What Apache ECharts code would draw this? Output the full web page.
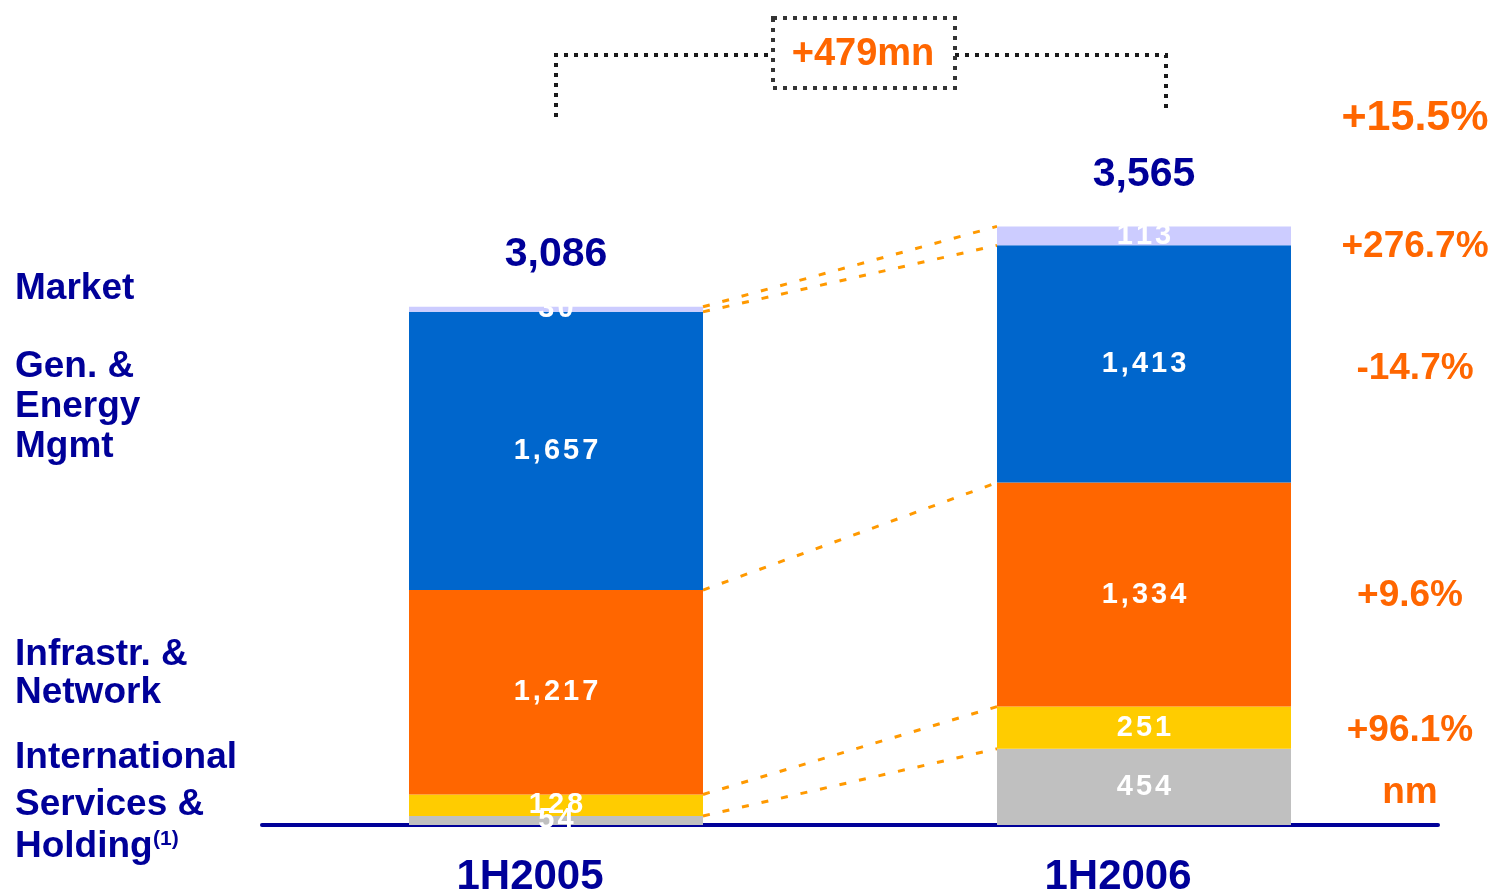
<!DOCTYPE html>
<html>
<head>
<meta charset="utf-8">
<script src="https://cdn.jsdelivr.net/npm/echarts@6/dist/echarts.min.js"></script>
<style>
  html, body { margin: 0; padding: 0; background: #ffffff; }
  #chart { width: 1491px; height: 893px; }
</style>
</head>
<body>
<div id="chart"></div>
<script>
// Revenue by business area, 1H2005 vs 1H2006 (EUR mn)
const categories = ['1H2005', '1H2006'];
const servicesHolding = [54, 454];
const international = [128, 251];
const infrastructure = [1217, 1334];
const generation = [1657, 1413];
const market = [30, 113];
const totals = [3086, 3565];

// Year-on-year change per business area (bottom to top) and overall
const segmentChanges = ['nm', '+96.1%', '+9.6%', '-14.7%', '+276.7%'];
const totalChange = '+15.5%';
const totalDelta = '+479mn';

const NAVY = '#000099';
const ORANGE_TEXT = '#FF6600';
const FONT = "'Liberation Sans', Arial, Helvetica, sans-serif";

const segments = [
  { name: 'Services & Holding', data: servicesHolding, color: '#C0C0C0' },
  { name: 'International', data: international, color: '#FFCC00' },
  { name: 'Infrastr. & Network', data: infrastructure, color: '#FF6600' },
  { name: 'Gen. & Energy Mgmt', data: generation, color: '#0066CC' },
  { name: 'Market', data: market, color: '#CCCCFF' }
];

// Cumulative tops of each segment, used for the connector lines
const boundaries = [];
const running = [0, 0];
segments.forEach(function (s) {
  running[0] += s.data[0];
  running[1] += s.data[1];
  boundaries.push([0, running[0], running[1]]);
});

function fmt(v) { return v.toLocaleString('en-US'); }
// Letter-spaced white value labels inside the bars
function spaced(v) {
  return fmt(v).split('').map(function (c) { return '{c|' + c + '}'; }).join('');
}

const barSeries = segments.map(function (s) {
  return {
    name: s.name,
    type: 'bar',
    stack: 'revenue',
    barWidth: '50%',
    data: s.data,
    itemStyle: { color: s.color },
    label: {
      show: true,
      position: 'inside',
      formatter: function (p) { return spaced(p.value); },
      rich: {
        c: { fontFamily: FONT, fontSize: 29, fontWeight: 'bold', color: '#ffffff', padding: [0, 1.5, 0, 1.5] }
      }
    },
    z: 3
  };
});

// Dotted connectors between matching segment tops of the two bars
const connectorSeries = {
  type: 'custom',
  silent: true,
  encode: { x: 0, y: [1, 2] },
  data: boundaries,
  z: 2,
  renderItem: function (params, api) {
    const band = api.size([1, 0])[0];
    const half = band * 0.25;
    const p1 = api.coord([0, api.value(1)]);
    const p2 = api.coord([1, api.value(2)]);
    return {
      type: 'line',
      shape: { x1: p1[0] + half, y1: p1[1], x2: p2[0] - half, y2: p2[1] },
      style: { stroke: '#FF9900', lineWidth: 3, lineDash: [7, 13], fill: null }
    };
  }
};

// Bracket showing the total increase between the two periods
const bracketSeries = {
  type: 'custom',
  silent: true,
  encode: { x: 0, y: [1, 2] },
  data: [[0, totals[0], totals[1]]],
  z: 5,
  renderItem: function (params, api) {
    const c1 = api.coord([0, 0])[0];
    const c2 = api.coord([1, 0])[0];
    const mid = (c1 + c2) / 2 + 14;
    const boxHalf = 91;
    const lineY = 55;
    const dash = { stroke: '#1a1a1a', lineWidth: 4, lineDash: [4, 6], fill: null };
    return {
      type: 'group',
      children: [
        { type: 'polyline', shape: { points: [[c1, 117], [c1, lineY], [mid - boxHalf, lineY]] }, style: dash },
        { type: 'polyline', shape: { points: [[mid + boxHalf, lineY], [c2 + 22, lineY], [c2 + 22, 110]] }, style: dash },
        { type: 'rect', shape: { x: mid - boxHalf, y: 18, width: boxHalf * 2, height: 70 }, style: { stroke: '#333333', lineWidth: 4, lineDash: [4, 6], fill: null } },
        {
          type: 'text', x: mid - 1, y: 55,
          style: {
            text: totalDelta, fill: ORANGE_TEXT,
            font: 'bold 38px ' + FONT,
            align: 'center', verticalAlign: 'middle',
            textAlign: 'center', textVerticalAlign: 'middle'
          }
        }
      ]
    };
  }
};

// Period totals above the stacks
const totalSeries = {
  type: 'scatter',
  silent: true,
  symbolSize: 1,
  itemStyle: { color: 'transparent', opacity: 1 },
  data: totals,
  label: {
    show: true,
    position: 'top',
    distance: 31,
    formatter: function (p) { return fmt(p.value); },
    fontFamily: FONT, fontSize: 41, fontWeight: 'bold', color: NAVY, opacity: 1
  },
  z: 6
};

function txt(text, x, y, size, color, align) {
  return {
    type: 'text', x: x, y: y, silent: true,
    style: {
      text: text, fill: color,
      font: 'bold ' + size + 'px ' + FONT,
      align: align || 'left', verticalAlign: 'middle',
      textAlign: align || 'left', textVerticalAlign: 'middle'
    }
  };
}

// Business area names on the left
const leftLabels = [
  ['Market', 289], ['Gen. &', 367], ['Energy', 407], ['Mgmt', 447],
  ['Infrastr. &', 655], ['Network', 693], ['International', 758],
  ['Services &', 805], ['Holding', 847]
];
const changeY = [793, 731, 596, 369, 247];
const changeX = [1410, 1410, 1410, 1415, 1415];

const graphics = leftLabels.map(function (l) { return txt(l[0], 15, l[1], 37, NAVY, 'left'); });
graphics.push(txt('(1)', 153, 839, 21, NAVY, 'left'));
segmentChanges.forEach(function (c, i) { graphics.push(txt(c, changeX[i], changeY[i], 37, ORANGE_TEXT, 'center')); });
graphics.push(txt(totalChange, 1415, 118, 43, ORANGE_TEXT, 'center'));

const chart = echarts.init(document.getElementById('chart'), null, { renderer: 'canvas' });
chart.setOption({
  animation: false,
  backgroundColor: '#ffffff',
  grid: { left: 262, right: 53, top: 19, bottom: 68, containLabel: false, outerBoundsMode: 'none' },
  xAxis: {
    type: 'category',
    data: categories,
    axisTick: { show: false },
    axisLine: { lineStyle: { color: NAVY, width: 4, cap: 'round' } },
    axisLabel: {
      margin: 31,
      fontFamily: FONT, fontSize: 42, fontWeight: 'bold', color: NAVY,
      padding: [0, 52, 0, 0]
    },
    splitLine: { show: false }
  },
  yAxis: {
    type: 'value',
    min: 0,
    max: 4800,
    show: false,
    splitLine: { show: false }
  },
  series: barSeries.concat([connectorSeries, bracketSeries, totalSeries]),
  graphic: graphics
});
</script>
</body>
</html>
